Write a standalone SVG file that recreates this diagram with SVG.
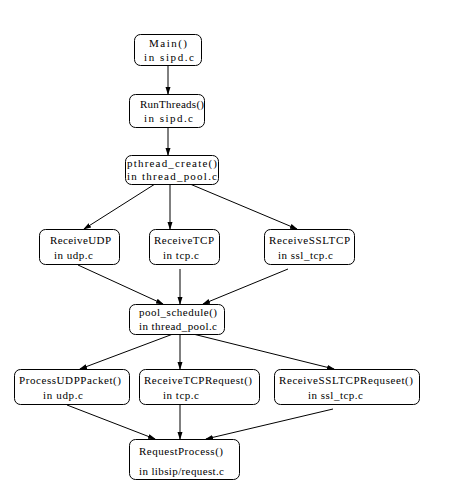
<svg xmlns="http://www.w3.org/2000/svg" width="455" height="494" viewBox="0 0 455 494">
<style>
.n rect{fill:#fff;stroke:#000;stroke-width:1}
text{font-family:"Liberation Serif","Times New Roman",serif;font-size:11px;fill:#000}
.e line{stroke:#000;stroke-width:1;marker-end:url(#a)}
</style>
<defs>
<marker id="a" viewBox="0 0 8 6" refX="7" refY="3" markerWidth="8" markerHeight="6" markerUnits="userSpaceOnUse" orient="auto">
<path d="M0,0.5 L8,3 L0,5.5 Z" fill="#000"/>
</marker>
</defs>
<rect width="455" height="494" fill="#fff"/>
<g class="e" id="connectors">
<line x1="168" y1="65" x2="168" y2="94"/>
<line x1="168" y1="127" x2="168" y2="155"/>
<line x1="155" y1="184" x2="84" y2="229"/>
<line x1="170" y1="184" x2="170" y2="229"/>
<line x1="190" y1="184" x2="297" y2="229"/>
<line x1="78" y1="265" x2="163" y2="304"/>
<line x1="180" y1="269" x2="180" y2="304"/>
<line x1="288" y1="269" x2="203" y2="304"/>
<line x1="173" y1="334" x2="80" y2="369"/>
<line x1="180" y1="334" x2="180" y2="369"/>
<line x1="193" y1="334" x2="334" y2="369"/>
<line x1="67" y1="405" x2="155" y2="439"/>
<line x1="180" y1="405" x2="180" y2="439"/>
<line x1="333" y1="409" x2="206" y2="439"/>
</g>
<g class="n" id="main">
<rect x="134.5" y="34.5" width="67" height="31" rx="6"/>
<text x="149" y="47" textLength="38" lengthAdjust="spacing">Main()</text>
<text x="144" y="61" textLength="50" lengthAdjust="spacing">in sipd.c</text>
</g>
<g class="n" id="runthreads">
<rect x="129.5" y="94.5" width="75" height="33" rx="6"/>
<text x="140" y="108" textLength="64" lengthAdjust="spacing">RunThreads()</text>
<text x="144" y="122" textLength="49" lengthAdjust="spacing">in sipd.c</text>
</g>
<g class="n" id="pthread_create">
<rect x="125.5" y="155.5" width="93" height="29" rx="6"/>
<text x="127" y="167" textLength="90" lengthAdjust="spacing">pthread_create()</text>
<text x="127" y="180" textLength="90" lengthAdjust="spacing">in thread_pool.c</text>
</g>
<g class="n" id="receiveudp">
<rect x="39.5" y="229.5" width="80" height="35" rx="6"/>
<text x="50" y="244" textLength="61" lengthAdjust="spacing">ReceiveUDP</text>
<text x="54" y="259" textLength="39" lengthAdjust="spacing">in udp.c</text>
</g>
<g class="n" id="receivetcp">
<rect x="149.5" y="229.5" width="70" height="35" rx="6"/>
<text x="154" y="244" textLength="60" lengthAdjust="spacing">ReceiveTCP</text>
<text x="163" y="259" textLength="36" lengthAdjust="spacing">in tcp.c</text>
</g>
<g class="n" id="receivessltcp">
<rect x="264.5" y="229.5" width="90" height="35" rx="6"/>
<text x="269" y="244" textLength="81" lengthAdjust="spacing">ReceiveSSLTCP</text>
<text x="278" y="259" textLength="55" lengthAdjust="spacing">in ssl_tcp.c</text>
</g>
<g class="n" id="pool_schedule">
<rect x="129.5" y="304.5" width="95" height="30" rx="6"/>
<text x="139" y="316" textLength="78" lengthAdjust="spacing">pool_schedule()</text>
<text x="139" y="330" textLength="78" lengthAdjust="spacing">in thread_pool.c</text>
</g>
<g class="n" id="processudppacket">
<rect x="14.5" y="369.5" width="115" height="35" rx="6"/>
<text x="19" y="384" textLength="102" lengthAdjust="spacing">ProcessUDPPacket()</text>
<text x="43" y="399" textLength="40" lengthAdjust="spacing">in udp.c</text>
</g>
<g class="n" id="receivetcprequest">
<rect x="139.5" y="369.5" width="120" height="35" rx="6"/>
<text x="144" y="384" textLength="108" lengthAdjust="spacing">ReceiveTCPRequest()</text>
<text x="163" y="399" textLength="36" lengthAdjust="spacing">in tcp.c</text>
</g>
<g class="n" id="receivessltcprequseet">
<rect x="274.5" y="369.5" width="145" height="35" rx="6"/>
<text x="279" y="384" textLength="134" lengthAdjust="spacing">ReceiveSSLTCPRequseet()</text>
<text x="308" y="399" textLength="55" lengthAdjust="spacing">in ssl_tcp.c</text>
</g>
<g class="n" id="requestprocess">
<rect x="129.5" y="439.5" width="110" height="40" rx="6"/>
<text x="139" y="455" textLength="84" lengthAdjust="spacing">RequestProcess()</text>
<text x="139" y="475" textLength="85" lengthAdjust="spacing">in libsip/request.c</text>
</g>
</svg>
